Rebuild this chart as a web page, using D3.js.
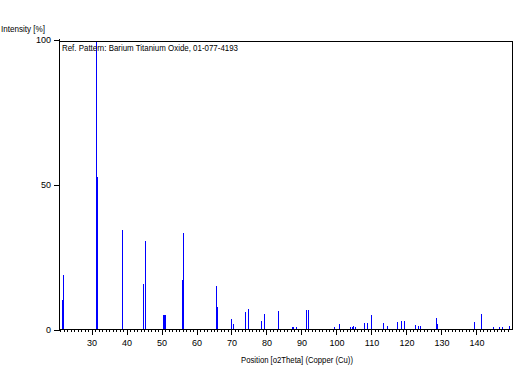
<!DOCTYPE html>
<html>
<head>
<meta charset="utf-8">
<script src="https://cdn.jsdelivr.net/npm/d3@7/dist/d3.min.js"></script>
<style>
  html, body { margin: 0; padding: 0; background: #fff; }
  svg { display: block; }
  text { font-family: "Liberation Sans", Arial, sans-serif; fill: #000; }
</style>
</head>
<body>
<div id="chart"></div>
<script>
// Peak positions (°2Theta) and relative intensities (%)
const positions = [21.71, 22.0, 31.43, 31.71, 38.86, 44.86, 45.43, 50.57, 50.86, 51.14,
  56.0, 56.29, 65.71, 66.0, 69.86, 70.14, 70.43, 70.71, 74.14, 75.0,
  78.71, 79.29, 83.29, 87.43, 87.71, 88.43, 91.57, 91.86, 92.14, 99.57,
  101.0, 103.86, 104.43, 105.0, 105.29, 108.14, 109.0, 109.86, 113.57, 114.43,
  117.57, 118.57, 119.29, 122.43, 123.57, 123.86, 128.43, 129.0, 139.57, 141.29,
  145.0, 146.43, 147.57, 149.29];
const intensities = [10.1, 18.8, 100, 52.7, 34.3, 15.7, 30.5, 4.9, 4.9, 4.9,
  17.0, 33.3, 15.1, 7.8, 0.9, 3.5, 1.9, 1.2, 6.0, 7.0,
  2.9, 5.3, 6.3, 0.8, 0.8, 0.8, 6.7, 6.7, 6.7, 0.8,
  1.8, 0.8, 0.8, 1.1, 0.8, 2.2, 2.2, 5.0, 2.2, 1.2,
  2.5, 2.9, 2.9, 1.5, 1.2, 1.2, 3.9, 1.8, 2.5, 5.3,
  0.8, 0.8, 0.8, 1.1];
const xTickValues = [30, 40, 50, 60, 70, 80, 90, 100, 110, 120, 130, 140];
const yTickValues = [0, 50, 100];
const xDomain = [20.857, 150.286];
const yDomain = [0, 100];
const titleText = "Ref. Pattern: Barium Titanium Oxide, 01-077-4193";
const yAxisTitle = "Intensity [%]";
const xAxisTitle = "Position [o2Theta] (Copper (Cu))";

(function () {
const W = 525, H = 385;
const pL = 59.5, pR = 512.5, pT = 41.5, pB = 329.5;

const svg = d3.select("#chart").append("svg").attr("width", W).attr("height", H);

const x = d3.scaleLinear().domain(xDomain).range([pL, pR]);
const y = d3.scaleLinear().domain(yDomain).range([pB, 39.5]);

svg.append("clipPath").attr("id", "plotclip")
  .append("rect").attr("x", pL).attr("y", pT).attr("width", pR - pL).attr("height", pB - pT);

// bars
const data = positions.map((p, i) => ({ p, v: intensities[i] }));
svg.append("g").attr("clip-path", "url(#plotclip)")
  .selectAll("rect").data(data).join("rect")
  .attr("x", d => Math.round(x(d.p) - 0.5))
  .attr("width", 1)
  .attr("y", d => Math.round(y(d.v)))
  .attr("height", d => Math.max(1, Math.round(pB - 0.5) - Math.round(y(d.v))))
  .attr("fill", "#0000ff")
  .attr("shape-rendering", "crispEdges");

// frame
const frame = svg.append("g").attr("stroke", "#000").attr("stroke-width", 1).attr("fill", "none")
  .attr("shape-rendering", "crispEdges");
frame.append("line").attr("x1", pL).attr("x2", pL).attr("y1", 39).attr("y2", pB);
frame.append("line").attr("x1", pL).attr("x2", pR).attr("y1", pT).attr("y2", pT);
frame.append("line").attr("x1", pR).attr("x2", pR).attr("y1", pT).attr("y2", pB);

// x axis with minor ticks
const minorTicks = d3.range(21, 151).filter(v => v % 10 !== 0 && v >= xDomain[0] && v <= xDomain[1]);
const xAxisMinor = d3.axisBottom(x).tickValues(minorTicks).tickSize(3).tickFormat("").tickSizeOuter(0);
const xAxisMajor = d3.axisBottom(x).tickValues(xTickValues).tickSize(6).tickPadding(2)
  .tickFormat(d3.format("d")).tickSizeOuter(0);

const gxMinor = svg.append("g").attr("transform", `translate(0,${pB - 0.5})`).call(xAxisMinor);
gxMinor.select(".domain").remove();
gxMinor.selectAll("line").attr("shape-rendering", "crispEdges").attr("stroke", "#000");

const gx = svg.append("g").attr("transform", `translate(0,${pB - 0.5})`).call(xAxisMajor);
gx.select(".domain").attr("d", `M${pL},0.5H${pR}`).attr("stroke", "#000").attr("shape-rendering", "crispEdges");
gx.selectAll(".tick line").attr("shape-rendering", "crispEdges").attr("stroke", "#000");
gx.selectAll(".tick text").attr("font-size", "9px").attr("font-family", "'Liberation Sans', Arial, sans-serif")
  .attr("fill", "#000").attr("y", 17).attr("dy", 0);

// y axis
const yAxis = d3.axisLeft(y).tickValues(yTickValues).tickSize(6).tickPadding(2)
  .tickFormat(d3.format("d")).tickSizeOuter(0);
const gy = svg.append("g").attr("transform", `translate(${pL},0)`).call(yAxis);
gy.select(".domain").remove();
gy.selectAll(".tick line").attr("shape-rendering", "crispEdges").attr("stroke", "#000");
gy.selectAll(".tick text").attr("font-size", "9px").attr("font-family", "'Liberation Sans', Arial, sans-serif")
  .attr("fill", "#000").attr("x", -8.5).attr("dy", "0.35em");

// titles
svg.append("text").attr("x", 1).attr("y", 31.5).attr("font-size", "9px")
  .attr("textLength", 44).attr("lengthAdjust", "spacingAndGlyphs").text(yAxisTitle);
svg.append("text").attr("x", 62).attr("y", 50.5).attr("font-size", "9px")
  .attr("textLength", 176).attr("lengthAdjust", "spacingAndGlyphs").text(titleText);
svg.append("text").attr("x", 241).attr("y", 363).attr("font-size", "9px")
  .attr("textLength", 112).attr("lengthAdjust", "spacingAndGlyphs").text(xAxisTitle);
})();
</script>
</body>
</html>
